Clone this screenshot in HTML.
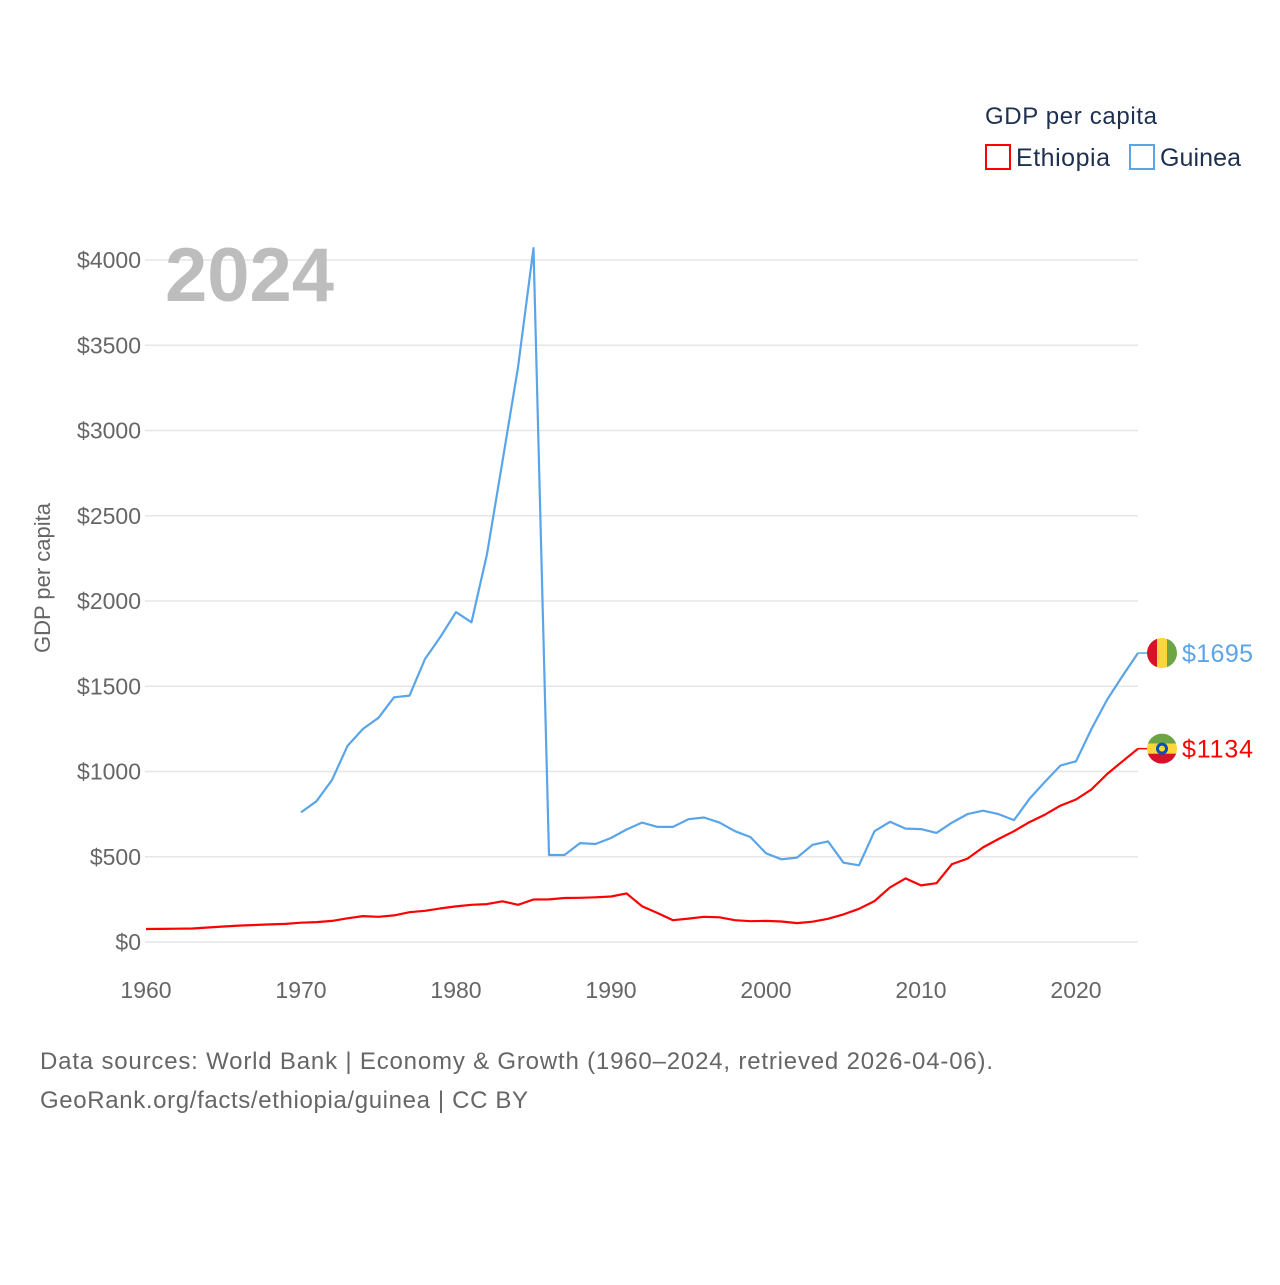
<!DOCTYPE html>
<html><head><meta charset="utf-8"><style>
body{margin:0;background:#fff;font-family:"Liberation Sans",sans-serif}
svg text{font-family:"Liberation Sans",sans-serif}
</style></head><body>
<svg width="1280" height="1280" viewBox="0 0 1280 1280">
<g id="grid"></g>
<g id="yt"></g>
<g id="xt"></g>
<text x="165" y="301" font-size="76" font-weight="bold" fill="#bdbdbd">2024</text>
<text transform="translate(50,578) rotate(-90)" text-anchor="middle" font-size="22" fill="#666">GDP per capita</text>
<g id="lines"></g>
<g>
<text x="985" y="124" font-size="24" fill="#1d3050" textLength="172">GDP per capita</text>
<g><rect x="986" y="145" width="24" height="24" fill="none" stroke="#ff0000" stroke-width="2"/><text x="1016" y="166" font-size="25" fill="#1d3050" textLength="94">Ethiopia</text></g>
<g><rect x="1130" y="145" width="24" height="24" fill="none" stroke="#5aa5ea" stroke-width="2"/><text x="1160" y="166" font-size="25" fill="#1d3050" textLength="81">Guinea</text></g>
</g>
<g>
<text x="40" y="1069" font-size="24" fill="#666" textLength="953">Data sources: World Bank | Economy &amp; Growth (1960–2024, retrieved 2026-04-06).</text>
<text x="40" y="1108" font-size="24" fill="#666" textLength="488">GeoRank.org/facts/ethiopia/guinea | CC BY</text>
</g>
</svg>
<script>
const ethYears=[];for(let y=1960;y<=2024;y++)ethYears.push(y);
const ethiopia=[76,77,78,79,85,91,96,100,103,106,113,117,124,139,152,148,156,175,183,197,209,218,222,239,218,249,250,258,259,262,267,285,210,170,128,137,148,145,128,122,124,120,111,119,136,162,195,240,320,373,332,345,457,489,555,604,650,703,747,800,836,895,985,1060,1134];
const guiYears=[];for(let y=1970;y<=2024;y++)guiYears.push(y);
const guinea=[760,826,950,1150,1250,1315,1435,1445,1660,1790,1935,1875,2275,2820,3370,4070,510,510,580,575,610,660,700,675,675,720,730,700,650,615,520,485,495,570,590,465,450,650,705,665,662,640,700,750,770,750,715,840,940,1035,1060,1250,1420,1560,1695];
const yTicks=[0,500,1000,1500,2000,2500,3000,3500,4000];
const xTicks=[1960,1970,1980,1990,2000,2010,2020];
const NS='http://www.w3.org/2000/svg';
const X=v=>146+(v-1960)*15.5;
const Y=v=>942-v*0.1705;
function mk(t,a,p){const e=document.createElementNS(NS,t);for(const k in a)e.setAttribute(k,a[k]);p.appendChild(e);return e;}
const grid=document.getElementById('grid'),yt=document.getElementById('yt'),xt=document.getElementById('xt'),lines=document.getElementById('lines');
yTicks.forEach(v=>{
 const l=mk('line',{x1:145,x2:1138,y1:Y(v),y2:Y(v),stroke:'#e6e6e6','stroke-width':1.5},grid);
 
 
 const t=mk('text',{x:141,y:Y(v)+8,'text-anchor':'end','font-size':23,fill:'#666'},yt);
 t.textContent='$'+v;
 
 
});
xTicks.forEach(v=>{
 const t=mk('text',{x:X(v),y:998,'text-anchor':'middle','font-size':23,fill:'#666'},xt);
 t.textContent=v;
 
 
});
function series(yrs,vals,col,name){
 const d=yrs.map((y,i)=>(i?'L':'M')+X(y).toFixed(1)+','+Y(vals[i]).toFixed(1)).join('');
 const p=mk('path',{d:d,fill:'none',stroke:col,'stroke-width':2.2,'stroke-linejoin':'round'},lines);
 
 
 const lx=X(yrs[yrs.length-1]),ly=Y(vals[vals.length-1]);
 mk('line',{x1:lx,x2:lx+10,y1:ly,y2:ly,stroke:col,'stroke-width':1.5},lines);
 const t=mk('text',{x:1182,y:ly+9,'font-size':25,fill:col,textLength:71},lines);
 t.textContent='$'+vals[vals.length-1];
 
 
 return ly;
}
const gy=series(guiYears,guinea,'#5aa5ea','guinea');
const ey=series(ethYears,ethiopia,'#ff0000','ethiopia');
const gf=mk('g',{},lines);


mk('clipPath',{id:'cg'},gf).appendChild(document.createElementNS(NS,'circle'));
const cg=document.querySelector('#cg circle');cg.setAttribute('cx',1162);cg.setAttribute('cy',gy);cg.setAttribute('r',15);
mk('rect',{x:1147,y:gy-15,width:10,height:30,fill:'#d9102a','clip-path':'url(#cg)'},gf);
mk('rect',{x:1157,y:gy-15,width:10,height:30,fill:'#fcd63a','clip-path':'url(#cg)'},gf);
mk('rect',{x:1167,y:gy-15,width:10,height:30,fill:'#6da544','clip-path':'url(#cg)'},gf);
const ef=mk('g',{},lines);


mk('clipPath',{id:'ce'},ef).appendChild(document.createElementNS(NS,'circle'));
const ce=document.querySelector('#ce circle');ce.setAttribute('cx',1162);ce.setAttribute('cy',ey);ce.setAttribute('r',15);
mk('rect',{x:1147,y:ey-15,width:30,height:10,fill:'#6da544','clip-path':'url(#ce)'},ef);
mk('rect',{x:1147,y:ey-5,width:30,height:10,fill:'#fcd63a','clip-path':'url(#ce)'},ef);
mk('rect',{x:1147,y:ey+5,width:30,height:10,fill:'#d9102a','clip-path':'url(#ce)'},ef);
mk('circle',{cx:1162,cy:ey,r:6,fill:'#0052b4'},ef);
mk('circle',{cx:1162,cy:ey,r:3,fill:'#fcd63a'},ef);
</script>
</body></html>
